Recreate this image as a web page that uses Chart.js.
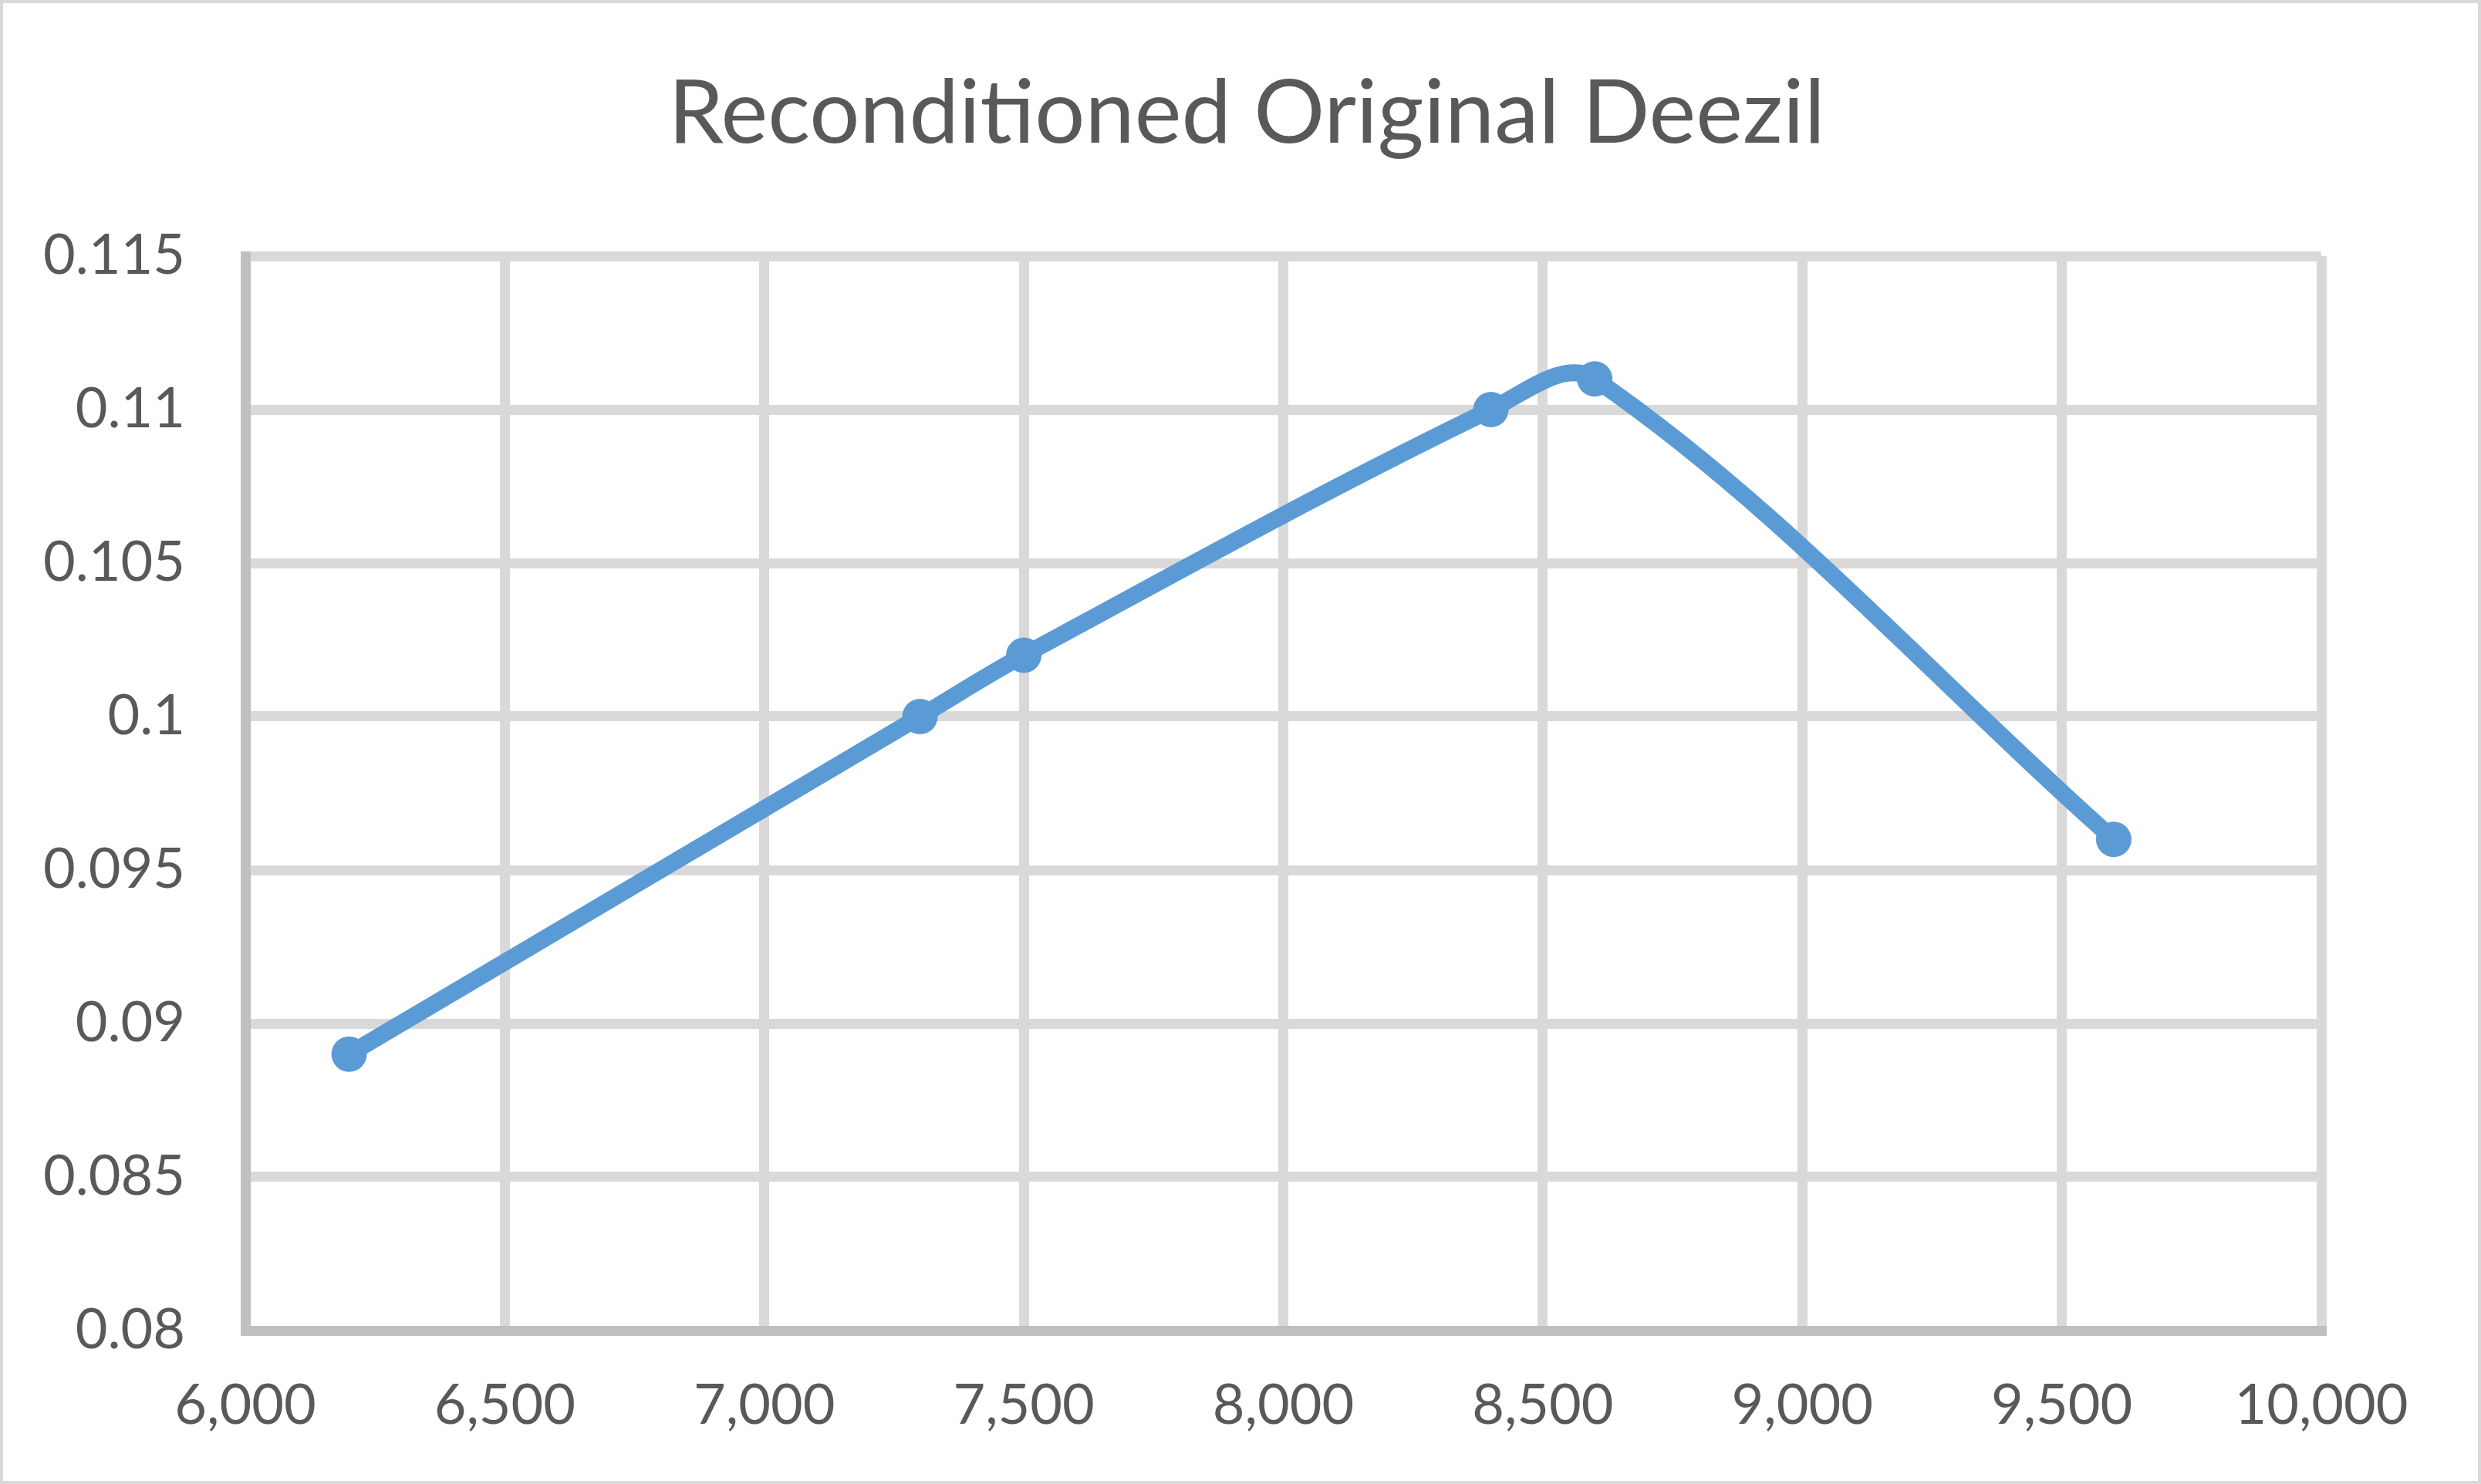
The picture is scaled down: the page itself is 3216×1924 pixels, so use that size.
<!DOCTYPE html>
<html><head><meta charset="utf-8">
<script src="https://cdn.jsdelivr.net/npm/chart.js@4.4.0/dist/chart.umd.min.js"></script>
<style>html,body{margin:0;padding:0;background:#fff;overflow:hidden;}#wrap{width:3216px;height:1924px;position:relative;}</style>
</head><body><div id="wrap"><canvas id="c" width="3216" height="1924"></canvas></div>
<script>
const titleText = 'Reconditioned Original Deezil';
const xValues = [6200, 7300, 7500, 8400, 8600, 9600];
const yValues = [0.089, 0.1, 0.102, 0.11, 0.111, 0.096];
const xTicks = [6000, 6500, 7000, 7500, 8000, 8500, 9000, 9500, 10000];
const xTickLabels = ['6,000', '6,500', '7,000', '7,500', '8,000', '8,500', '9,000', '9,500', '10,000'];
const yTicks = [0.08, 0.085, 0.09, 0.095, 0.1, 0.105, 0.11, 0.115];
const yTickLabels = ['0.08', '0.085', '0.09', '0.095', '0.1', '0.105', '0.11', '0.115'];

const points = xValues.map((x, i) => ({x: x, y: yValues[i]}));
const textColor = '#595959';
const fontFamily = 'Lato, "Open Sans", sans-serif';

const borderPlugin = {
  id: 'outerBorder',
  beforeDraw(chart) {
    const ctx = chart.ctx;
    ctx.save();
    ctx.fillStyle = '#ffffff';
    ctx.fillRect(0, 0, chart.width, chart.height);
    ctx.restore();
  },
  afterDraw(chart) {
    const ctx = chart.ctx;
    ctx.save();
    ctx.strokeStyle = '#D9D9D9';
    ctx.lineWidth = 4;
    ctx.strokeRect(2, 2, chart.width - 4, chart.height - 4);
    ctx.restore();
  }
};

new Chart(document.getElementById('c'), {
  type: 'scatter',
  data: {
    datasets: [{
      data: points,
      showLine: true,
      borderColor: '#5B9BD5',
      backgroundColor: '#5B9BD5',
      borderWidth: 22,
      tension: 0.35,
      pointRadius: 23,
      pointHoverRadius: 23,
      pointBorderWidth: 0,
      pointStyle: 'circle',
      clip: false
    }]
  },
  options: {
    responsive: false,
    devicePixelRatio: 1,
    animation: false,
    layout: { padding: { top: 0, left: 16, right: 0, bottom: 0 } },
    plugins: {
      legend: { display: false },
      tooltip: { enabled: false },
      title: {
        display: true,
        text: titleText,
        color: textColor,
        font: { family: fontFamily, size: 115, weight: 'normal', lineHeight: 1.2 },
        padding: { top: 79, bottom: 115 }
      }
    },
    scales: {
      x: {
        type: 'linear',
        min: 6000,
        max: 10000,
        afterBuildTicks(scale) { scale.ticks = xTicks.map(v => ({value: v})); },
        afterFit(scale) { scale.height = 199; },
        grid: { color: '#D9D9D9', lineWidth: 13, drawTicks: false },
        border: { color: '#BFBFBF', width: 13 },
        ticks: {
          padding: 55,
          color: textColor,
          font: { family: fontFamily, size: 72 },
          maxRotation: 0,
          autoSkip: false,
          callback: (v, i) => xTickLabels[i]
        }
      },
      y: {
        type: 'linear',
        min: 0.08,
        max: 0.115,
        afterBuildTicks(scale) { scale.ticks = yTicks.map(v => ({value: v})); },
        afterFit(scale) { scale.width = 302; },
        grid: { color: '#D9D9D9', lineWidth: 13, drawTicks: false },
        border: { color: '#BFBFBF', width: 13 },
        ticks: {
          padding: 78,
          color: textColor,
          font: { family: fontFamily, size: 72 },
          autoSkip: false,
          callback: (v, i) => yTickLabels[i]
        }
      },
      yRightSpace: {
        type: 'linear',
        position: 'right',
        min: 0,
        max: 1,
        display: true,
        afterFit(scale) { scale.width = 207; },
        grid: { display: false, drawTicks: false },
        border: { display: false },
        ticks: { display: false }
      }
    }
  },
  plugins: [borderPlugin]
});
</script>
</body></html>
